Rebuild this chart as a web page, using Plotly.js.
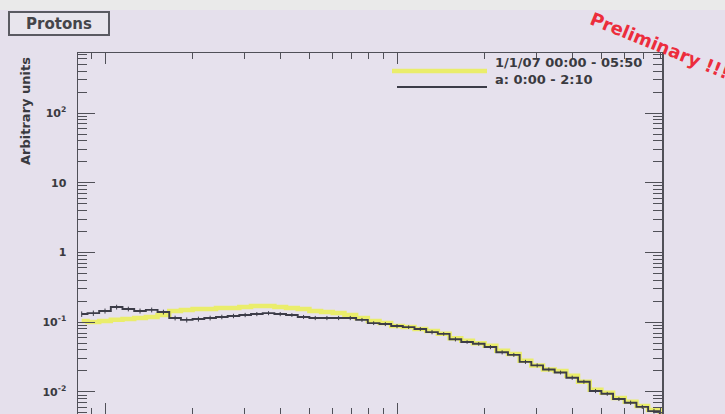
<!DOCTYPE html>
<html>
<head>
<meta charset="utf-8">
<script src="https://cdn.plot.ly/plotly-3.0.1.min.js"></script>
<style>
  html, body { margin: 0; padding: 0; background: #e4dfeb; }
  #chart { width: 725px; height: 414px; }
</style>
</head>
<body>
<div id="chart"></div>
<script>
// Bin centres (log-spaced, 0.04 decade wide)
const energy = [
  0.0832, 0.0912, 0.1000, 0.1096, 0.1202, 0.1318, 0.1445, 0.1585, 0.1738, 0.1905,
  0.2089, 0.2291, 0.2512, 0.2754, 0.3020, 0.3311, 0.3631, 0.3981, 0.4365, 0.4786,
  0.5248, 0.5754, 0.6310, 0.6918, 0.7586, 0.8318, 0.9120, 1.000, 1.096, 1.202,
  1.318, 1.445, 1.585, 1.738, 1.905, 2.089, 2.291, 2.512, 2.754, 3.020,
  3.311, 3.631, 3.981, 4.365, 4.786, 5.248, 5.754, 6.310, 6.918, 7.586, 8.318
];

// Run 1/1/07 00:00 - 05:50
const fluxFullRun = [
  0.104, 0.101, 0.104, 0.108, 0.111, 0.115, 0.119, 0.127, 0.145, 0.150,
  0.155, 0.155, 0.160, 0.160, 0.165, 0.171, 0.171, 0.165, 0.160, 0.155,
  0.145, 0.140, 0.135, 0.127, 0.115, 0.104, 0.097, 0.088, 0.085, 0.080,
  0.075, 0.068, 0.059, 0.054, 0.050, 0.046, 0.039, 0.035, 0.028, 0.024,
  0.021, 0.020, 0.017, 0.014, 0.0107, 0.0097, 0.0082, 0.0072, 0.0063, 0.0055, 0.0048
];

// Sub-interval a: 0:00 - 2:10
const fluxIntervalA = [
  0.131, 0.135, 0.145, 0.165, 0.155, 0.145, 0.150, 0.140, 0.115, 0.108,
  0.111, 0.115, 0.119, 0.123, 0.127, 0.131, 0.135, 0.131, 0.127, 0.119,
  0.115, 0.115, 0.115, 0.115, 0.108, 0.097, 0.094, 0.088, 0.085, 0.080,
  0.072, 0.068, 0.057, 0.052, 0.049, 0.044, 0.037, 0.034, 0.027, 0.024,
  0.021, 0.019, 0.016, 0.014, 0.0103, 0.0094, 0.0079, 0.0070, 0.0061, 0.0053, 0.0047
];
const errIntervalA = [
  0.012, 0.012, 0.012, 0.013, 0.012, 0.012, 0.012, 0.011, 0.009, 0.009,
  0.009, 0.009, 0.009, 0.009, 0.009, 0.009, 0.009, 0.009, 0.008, 0.008,
  0.008, 0.008, 0.008, 0.008, 0.007, 0.006, 0.006, 0.006, 0.005, 0.005,
  0.005, 0.004, 0.004, 0.003, 0.003, 0.003, 0.0025, 0.0022, 0.0018, 0.0016,
  0.0014, 0.0012, 0.0011, 0.0009, 0.0007, 0.0006, 0.0005, 0.0005, 0.0004, 0.0004, 0.0003
];

const legendLabels = ['1/1/07 00:00 - 05:50', 'a: 0:00 - 2:10'];
const yTickVals = [0.01, 0.1, 1, 10, 100];
const yTickText = ['10<sup>-2</sup>', '10<sup>-1</sup>', '1', '10', '10<sup>2</sup>'];
const xTickVals = [0.1, 1];

// Frame geometry (pixels) used to place paper-referenced decorations
const W = 725, H = 414, L = 78, R = 662, T = 53, B = 414;
const px = x => (x - L) / (R - L);
const py = y => (B - y) / (B - T);

function minorLog(kMin, kMax) {
  const v = [];
  for (let k = kMin; k <= kMax; k++)
    for (let m = 2; m <= 9; m++) v.push(m * Math.pow(10, k));
  return v;
}

const axisColor = '#505058';
const ink = '#3a3a40';
const boldFont = (size, color) => ({ family: 'DejaVu Sans', size: size, color: color || ink, weight: 700 });

const traces = [
  {
    x: energy, y: fluxFullRun, type: 'scatter', mode: 'lines',
    line: { shape: 'hvh', color: 'rgba(234,237,100,0.95)', width: 4.5 },
    hoverinfo: 'skip'
  },
  {
    x: energy, y: fluxIntervalA, type: 'scatter', mode: 'lines',
    line: { shape: 'hvh', color: '#3c3c48', width: 1.9 },
    error_y: { type: 'data', array: errIntervalA, visible: true, color: '#3c3c48', thickness: 1, width: 0 },
    hoverinfo: 'skip'
  }
];

const layout = {
  width: W, height: H,
  margin: { l: L, r: W - R, t: T, b: H - B },
  paper_bgcolor: '#e5e0ec',
  plot_bgcolor: '#e6e1ed',
  showlegend: false,
  xaxis: {
    type: 'log', range: [-1.0925, 0.9075],
    showline: true, linecolor: axisColor, linewidth: 1.5, mirror: 'ticks',
    ticks: 'inside', ticklen: 11, tickwidth: 1, tickcolor: axisColor,
    tickmode: 'array', tickvals: xTickVals, showticklabels: false,
    showgrid: false, zeroline: false,
    minor: { tickmode: 'array', tickvals: minorLog(-2, 0), ticks: 'inside', ticklen: 6, tickcolor: axisColor, showgrid: false }
  },
  yaxis: {
    type: 'log', range: [-2.317, 2.862],
    showline: true, linecolor: axisColor, linewidth: 1.5, mirror: 'ticks',
    ticks: 'inside', ticklen: 17, tickwidth: 1, tickcolor: axisColor,
    tickmode: 'array', tickvals: yTickVals, ticktext: yTickText,
    tickfont: boldFont(11), ticklabelstandoff: 8,
    showgrid: false, zeroline: false,
    minor: { tickmode: 'array', tickvals: minorLog(-3, 2), ticks: 'inside', ticklen: 9, tickcolor: axisColor, showgrid: false }
  },
  shapes: [
    // faint lighter strip along the top edge of the canvas
    { type: 'rect', xref: 'paper', yref: 'paper', x0: px(0), x1: px(W), y0: py(0), y1: py(10),
      fillcolor: '#eaeaea', line: { width: 0 }, layer: 'below' },
    // legend line samples
    { type: 'line', xref: 'paper', yref: 'paper', x0: px(392), x1: px(487), y0: py(71), y1: py(71),
      line: { color: 'rgba(234,237,100,0.95)', width: 4.5 } },
    { type: 'line', xref: 'paper', yref: 'paper', x0: px(397), x1: px(487), y0: py(87), y1: py(87),
      line: { color: '#3c3c48', width: 2 } }
  ],
  annotations: [
    { xref: 'paper', yref: 'paper', x: px(493), y: py(63), xanchor: 'left', yanchor: 'middle',
      text: legendLabels[0], showarrow: false, font: boldFont(13) },
    { xref: 'paper', yref: 'paper', x: px(493), y: py(80), xanchor: 'left', yanchor: 'middle',
      text: legendLabels[1], showarrow: false, font: boldFont(13) },
    { xref: 'paper', yref: 'paper', x: px(59), y: py(23.5), xanchor: 'center', yanchor: 'middle',
      text: 'Protons', showarrow: false, font: boldFont(15, '#45454a'),
      width: 94, height: 17, bgcolor: '#e8e5ed', bordercolor: '#5a5a62', borderwidth: 2, borderpad: 2 },
    { xref: 'paper', yref: 'paper', x: px(26), y: py(55), xanchor: 'center', yanchor: 'top',
      text: 'Arbitrary units', textangle: -90, showarrow: false, font: boldFont(13) },
    { xref: 'paper', yref: 'paper', x: px(660), y: py(45), xanchor: 'center', yanchor: 'middle',
      text: 'Preliminary !!!', textangle: 22, showarrow: false, font: boldFont(18, '#ec2d3c') }
  ]
};

Plotly.newPlot('chart', traces, layout, { staticPlot: true, displayModeBar: false });
</script>
</body>
</html>
